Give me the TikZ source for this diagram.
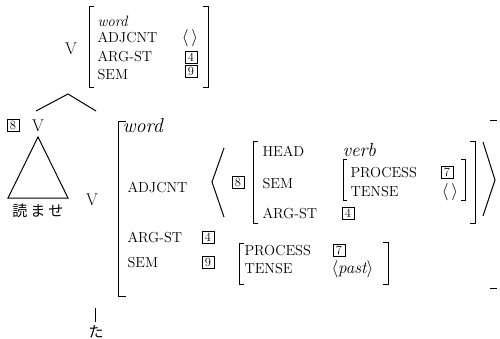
\documentclass[tikz,border=0pt]{standalone}
\usepackage{fontspec}
\newfontfamily\jpfont{Noto Sans CJK JP}
\usepackage{tikz}

\begin{document}
\begin{tikzpicture}[x=1pt,y=-1pt,line width=1pt,
  lab/.style={anchor=base west,inner sep=0pt,font=\fontsize{14.5}{17}\selectfont},
  val/.style={anchor=base west,inner sep=0pt,font=\fontsize{19}{22}\selectfont\itshape},
  cat/.style={inner sep=0pt,font=\fontsize{17}{20}\selectfont},
  tag/.style={draw,line width=0.8pt,inner sep=0pt,minimum width=12pt,minimum height=12pt,font=\fontsize{12.5}{12.5}\selectfont},
  jp/.style={inner sep=0pt,font=\fontsize{15}{18}\selectfont\jpfont}]

\useasboundingbox (0,0) rectangle (500,339);

%% mother
\node[cat] (vtop) at (71,49) {V};
\draw (94,7) -- (89,7) -- (89,88) -- (94,88);
\draw (203,7) -- (208,7) -- (208,88) -- (203,88);
\node[lab,font=\fontsize{15}{18}\selectfont\itshape] (wordtop) at (97,27) {word};
\node[lab] (adjtop) at (97,43) {ADJCNT};
\node[lab] (argtop) at (97,62) {ARG-ST};
\node[lab] (semtop) at (97,80) {SEM};
\node[inner sep=0pt,font=\fontsize{17}{20}\selectfont] (emptytop) at (190,38) {$\langle\,\rangle$};
\node[tag] (ffourtop) at (191,57) {4};
\node[tag] (nine) at (191,71) {9};

%% branches
\coordinate (apex) at (68,94);
\coordinate (lbr) at (36,111);
\coordinate (rbr) at (96,111);
\draw (lbr) -- (apex) -- (rbr);

%% left daughter
\node[tag] (eight) at (13,125) {8};
\node[cat] (vleft) at (38,126) {V};
\coordinate (tri) at (38,137);
\draw (tri) -- (8,198) -- (68,198) -- cycle;
\node[jp] (yomase) at (38,211) {読\hspace{3pt}ま\hspace{3pt}せ};

%% right daughter
\node[cat] (vright) at (92,200) {V};
\draw (126,122) -- (118,122) -- (118,296) -- (126,296);
\draw (490,121) -- (497,121);
\draw (490,288) -- (497,288);
\node[val,font=\fontsize{20}{22}\selectfont\itshape] (word) at (122,133) {word};
\node[lab] (adj) at (127,192) {ADJCNT};
\node[lab] (arg) at (127,242) {ARG-ST};
\node[lab] (sem) at (127,267) {SEM};
\node[tag] (ffour) at (208,237) {4};
\node[tag] (nineb) at (208,262) {9};

% adjcnt list
\draw (224,148) -- (212,182) -- (224,217);
\draw (483,142) -- (495,180) -- (483,216);
\node[tag] (eightb) at (238,182) {8};
\draw (258,142) -- (253,142) -- (253,223) -- (258,223);
\draw (470,142) -- (475,142) -- (475,223) -- (470,223);
\node[lab] (head) at (262,157) {HEAD};
\node[val] (verb) at (342,157) {verb};
\node[lab] (semin) at (262,188) {SEM};
\node[lab] (argin) at (262,218) {ARG-ST};
\node[tag] (ffourin) at (348,213) {4};
\draw (347,160) -- (343,160) -- (343,200) -- (347,200);
\draw (461,160) -- (465,160) -- (465,200) -- (461,200);
\node[lab] (procin) at (350,178) {PROCESS};
\node[lab] (tensein) at (350,196) {TENSE};
\node[tag] (seven) at (447,172) {7};
\node[inner sep=0pt,font=\fontsize{17}{20}\selectfont] (emptyin) at (450,192) {$\langle\,\rangle$};

% sem value
\draw (244,243) -- (239,243) -- (239,284) -- (244,284);
\draw (383,242) -- (388,242) -- (388,284) -- (383,284);
\node[lab] (proc) at (244,255) {PROCESS};
\node[lab] (tense) at (244,273) {TENSE};
\node[tag] (sevenb) at (339,250) {7};
\node[anchor=base west,inner sep=0pt,font=\fontsize{17}{20}\selectfont] (past) at (331,273) {$\langle\textit{past}\rangle$};

%% suffix
\coordinate (tastem) at (95,308);
\node[jp] (ta) at (96,332) {た};
\draw[line width=0.7pt] (tastem) -- (95,322);

\end{tikzpicture}
\end{document}
